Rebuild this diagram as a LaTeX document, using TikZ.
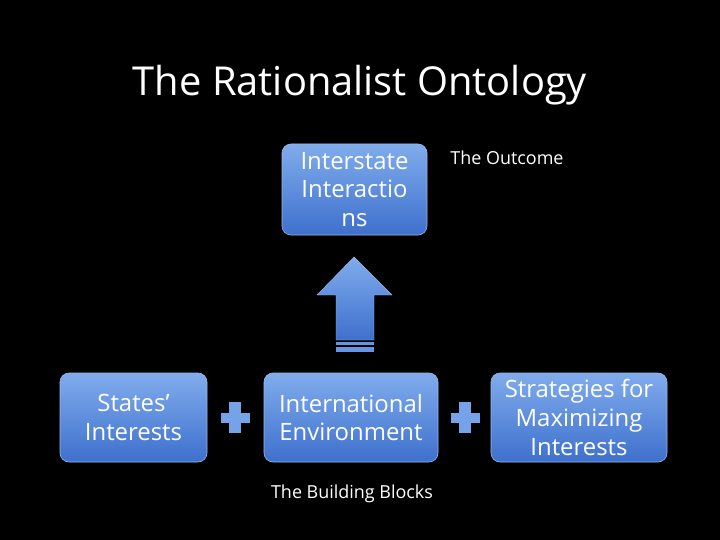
\documentclass[tikz,border=0pt]{standalone}
\usepackage{fontspec}
\setmainfont{Open Sans}
\usepackage{tikz}
\usetikzlibrary{positioning}
\tikzset{>=latex}
\definecolor{boxtop}{RGB}{128,172,236}
\definecolor{boxbot}{RGB}{62,112,205}
\definecolor{boxedge}{RGB}{150,185,235}
\tikzset{
    block/.style={rounded corners=9bp, draw=boxedge, line width=.6pt, top color=boxtop, bottom color=boxbot,
        text=white, align=center, font=\fontsize{24}{29}\selectfont, minimum height=89bp, inner sep=1bp},
    plus/.style={fill=boxtop!85!boxbot, draw=none}
}

\begin{document}
\begin{tikzpicture}[x=1bp, y=-1bp]
    \fill[black] (0, 0) rectangle (720, 540);
    \useasboundingbox (0, 0) rectangle (720, 540);
    \node[text=white, font=\fontsize{40}{46}\selectfont] (title) at (360, 85){The Rationalist Ontology};
    \node[block, minimum width=145bp, minimum height=91bp] (inter) at (354.5, 189.5){Interstate\\Interactio\\ns};
    \node[block, minimum width=147bp] (states) at (133.5, 417.5){States’\\Interests};
    \node[block, minimum width=174bp] (env) at (351, 417.5){International\\Environment};
    \node[block, minimum width=176bp] (strat) at (579, 417.5){Strategies for\\Maximizing\\Interests};
    \node[text=white, font=\fontsize{18}{21}\selectfont] (outcome) at (507, 158){The Outcome};
    \node[text=white, font=\fontsize{18}{21}\selectfont] (blocks) at (352, 494){The Building Blocks};
    % block arrow
    \shade[top color=boxtop, bottom color=boxbot, draw=boxedge, line width=.4pt]
        (354, 257)--(392, 295)--(374, 295)--(374, 340)--(336, 340)--(336, 295)--(317, 295)--cycle;
    \fill[boxtop!60!boxbot] (336, 342) rectangle (374, 345);
    \fill[boxtop!60!boxbot] (336, 347) rectangle (374, 352);
    % plus signs
    \foreach \px in {235, 465}{
        \fill[plus] (\px-6, 402) rectangle (\px+6, 433);
        \fill[plus] (\px-14.5, 413) rectangle (\px+14.5, 423);
    }
\end{tikzpicture}
\end{document}
